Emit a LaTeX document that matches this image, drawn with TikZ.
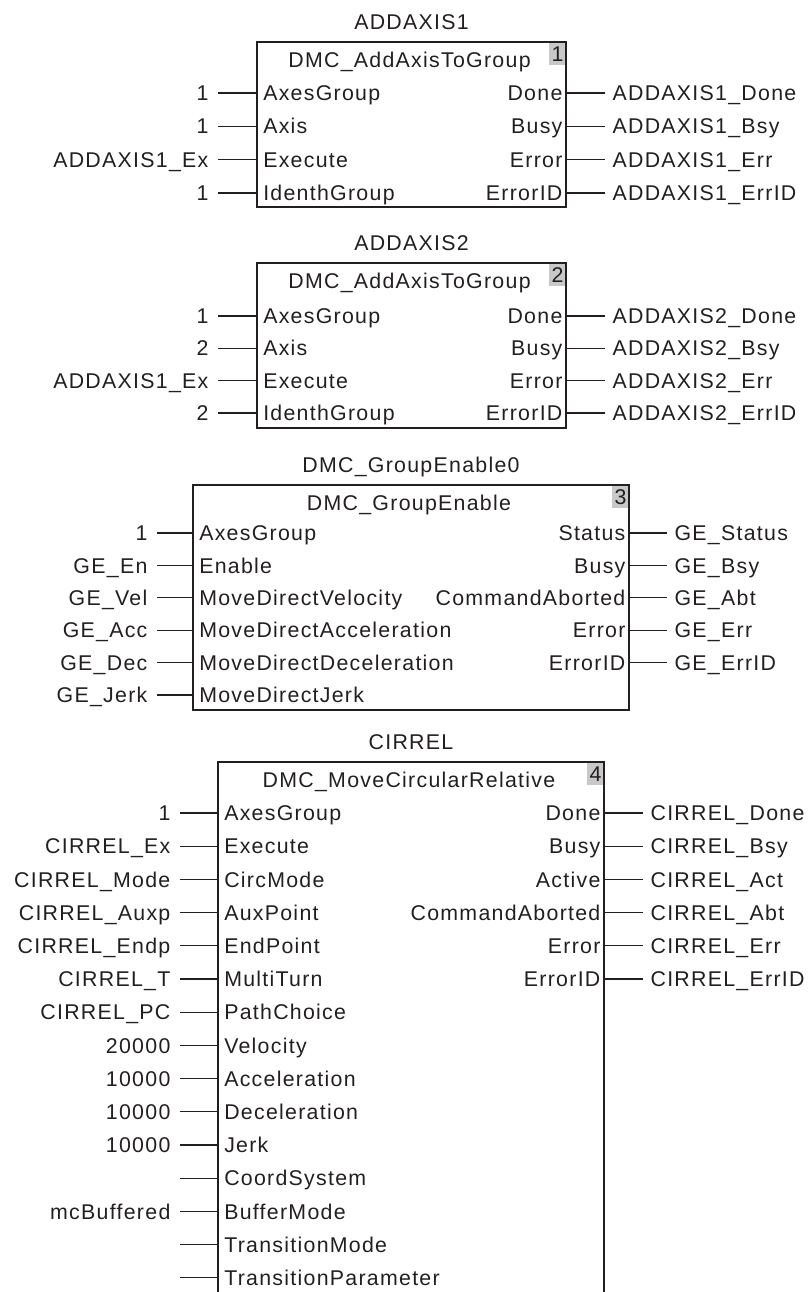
\documentclass[tikz,border=0pt]{standalone}
\usepackage{fontspec}
\setmainfont{Liberation Sans}[LetterSpace=6]
\usetikzlibrary{fit}
\definecolor{ink}{RGB}{35,31,32}
\definecolor{tag}{RGB}{200,200,200}
\tikzset{
 txt/.style={font=\fontsize{16}{18}\selectfont, text=ink, text height=11.4pt, text depth=0pt, inner ysep=0pt},
 outl/.style={txt, anchor=east, inner xsep=7pt},
 inl/.style={txt, anchor=west, inner xsep=4.5pt},
 inr/.style={txt, anchor=east, inner xsep=2.5pt},
 outr/.style={txt, anchor=west, inner xsep=5.5pt},
 ttl/.style={txt, anchor=center, inner xsep=0pt},
 fbox/.style={draw=ink, line width=1.2pt, inner sep=0pt},
 wire/.style={draw=ink, line width=0.85pt},
}
\newcommand\lpin[6]{\node[outl] (#1o) at (#3,#2) {#5}; \node[inl] (#1i) at (#4,#2) {#6}; \draw[wire] (#1o.east) -- (#1i.west);}
\newcommand\lfree[5]{\coordinate (#1o) at (#3,#2); \node[inl] (#1i) at (#4,#2) {#5}; \draw[wire] (#1o) -- (#1i.west);}
\newcommand\rpin[6]{\node[inr] (#1i) at (#3,#2) {#5}; \node[outr] (#1o) at (#4,#2) {#6}; \draw[wire] (#1i.east) -- (#1o.west);}
\newcommand\fblock[8]{%
 \fill[tag] ({#3-17},#4) rectangle (#3,{#4+23});
 \coordinate (#1nw) at (#2,#4); \coordinate (#1se) at (#3,#5);
 \node[fbox, fit=(#1nw)(#1se)] (#1) {};
 \node[ttl] (#1t) at ({(#2+#3)/2},{#4-20}) {#6};
 \node[ttl] (#1h) at ({(#2+#3)/2-2},{#4+18}) {#7};
 \node[ttl] (#1n) at ({#3-8.5},{#4+11.5}) {#8};
}
\begin{document}
\begin{tikzpicture}[x=0.75pt,y=-0.75pt]
\useasboundingbox (0,0) rectangle (811,1292);
\clip (0,0) rectangle (811,1292);
% block 1
\fblock{A}{257}{566}{42}{207}{ADDAXIS1}{DMC\_AddAxisToGroup}{1}
\lpin{a1}{93}{218}{257}{1}{AxesGroup}
\lpin{a2}{126.3}{218}{257}{1}{Axis}
\lpin{a3}{159.7}{218}{257}{ADDAXIS1\_Ex}{Execute}
\lpin{a4}{193}{218}{257}{1}{IdenthGroup}
\rpin{ar1}{93}{566}{605}{Done}{ADDAXIS1\_Done}
\rpin{ar2}{126.3}{566}{605}{Busy}{ADDAXIS1\_Bsy}
\rpin{ar3}{159.7}{566}{605}{Error}{ADDAXIS1\_Err}
\rpin{ar4}{193}{566}{605}{ErrorID}{ADDAXIS1\_ErrID}
% block 2
\fblock{B}{257}{566}{263}{428}{ADDAXIS2}{DMC\_AddAxisToGroup}{2}
\lpin{b1}{316}{218}{257}{1}{AxesGroup}
\lpin{b2}{348.3}{218}{257}{2}{Axis}
\lpin{b3}{380.7}{218}{257}{ADDAXIS1\_Ex}{Execute}
\lpin{b4}{413}{218}{257}{2}{IdenthGroup}
\rpin{br1}{316}{566}{605}{Done}{ADDAXIS2\_Done}
\rpin{br2}{348.3}{566}{605}{Busy}{ADDAXIS2\_Bsy}
\rpin{br3}{380.7}{566}{605}{Error}{ADDAXIS2\_Err}
\rpin{br4}{413}{566}{605}{ErrorID}{ADDAXIS2\_ErrID}
% block 3
\fblock{C}{193}{629}{485}{710}{DMC\_GroupEnable0}{DMC\_GroupEnable}{3}
\lpin{c1}{533}{157}{193}{1}{AxesGroup}
\lpin{c2}{565.4}{157}{193}{GE\_En}{Enable}
\lpin{c3}{597.8}{157}{193}{GE\_Vel}{MoveDirectVelocity}
\lpin{c4}{630.2}{157}{193}{GE\_Acc}{MoveDirectAcceleration}
\lpin{c5}{662.6}{157}{193}{GE\_Dec}{MoveDirectDeceleration}
\lpin{c6}{695}{157}{193}{GE\_Jerk}{MoveDirectJerk}
\rpin{cr1}{533}{629}{667}{Status}{GE\_Status}
\rpin{cr2}{565.4}{629}{667}{Busy}{GE\_Bsy}
\rpin{cr3}{597.8}{629}{667}{CommandAborted}{GE\_Abt}
\rpin{cr4}{630.2}{629}{667}{Error}{GE\_Err}
\rpin{cr5}{662.6}{629}{667}{ErrorID}{GE\_ErrID}
% block 4
\fblock{D}{218}{604}{762}{1320}{CIRREL}{DMC\_MoveCircularRelative}{4}
\lpin{d1}{813}{180}{218}{1}{AxesGroup}
\lpin{d2}{846.2}{180}{218}{CIRREL\_Ex}{Execute}
\lpin{d3}{879.4}{180}{218}{CIRREL\_Mode}{CircMode}
\lpin{d4}{912.6}{180}{218}{CIRREL\_Auxp}{AuxPoint}
\lpin{d5}{945.8}{180}{218}{CIRREL\_Endp}{EndPoint}
\lpin{d6}{979}{180}{218}{CIRREL\_T}{MultiTurn}
\lpin{d7}{1012.2}{180}{218}{CIRREL\_PC}{PathChoice}
\lpin{d8}{1045.4}{180}{218}{20000}{Velocity}
\lpin{d9}{1078.6}{180}{218}{10000}{Acceleration}
\lpin{d10}{1111.8}{180}{218}{10000}{Deceleration}
\lpin{d11}{1145}{180}{218}{10000}{Jerk}
\lfree{d12}{1178.2}{180}{218}{CoordSystem}
\lpin{d13}{1211.4}{180}{218}{mcBuffered}{BufferMode}
\lfree{d14}{1244.6}{180}{218}{TransitionMode}
\lfree{d15}{1277.8}{180}{218}{TransitionParameter}
\rpin{dr1}{813}{604}{643}{Done}{CIRREL\_Done}
\rpin{dr2}{846.2}{604}{643}{Busy}{CIRREL\_Bsy}
\rpin{dr3}{879.4}{604}{643}{Active}{CIRREL\_Act}
\rpin{dr4}{912.6}{604}{643}{CommandAborted}{CIRREL\_Abt}
\rpin{dr5}{945.8}{604}{643}{Error}{CIRREL\_Err}
\rpin{dr6}{979}{604}{643}{ErrorID}{CIRREL\_ErrID}
\end{tikzpicture}
\end{document}
